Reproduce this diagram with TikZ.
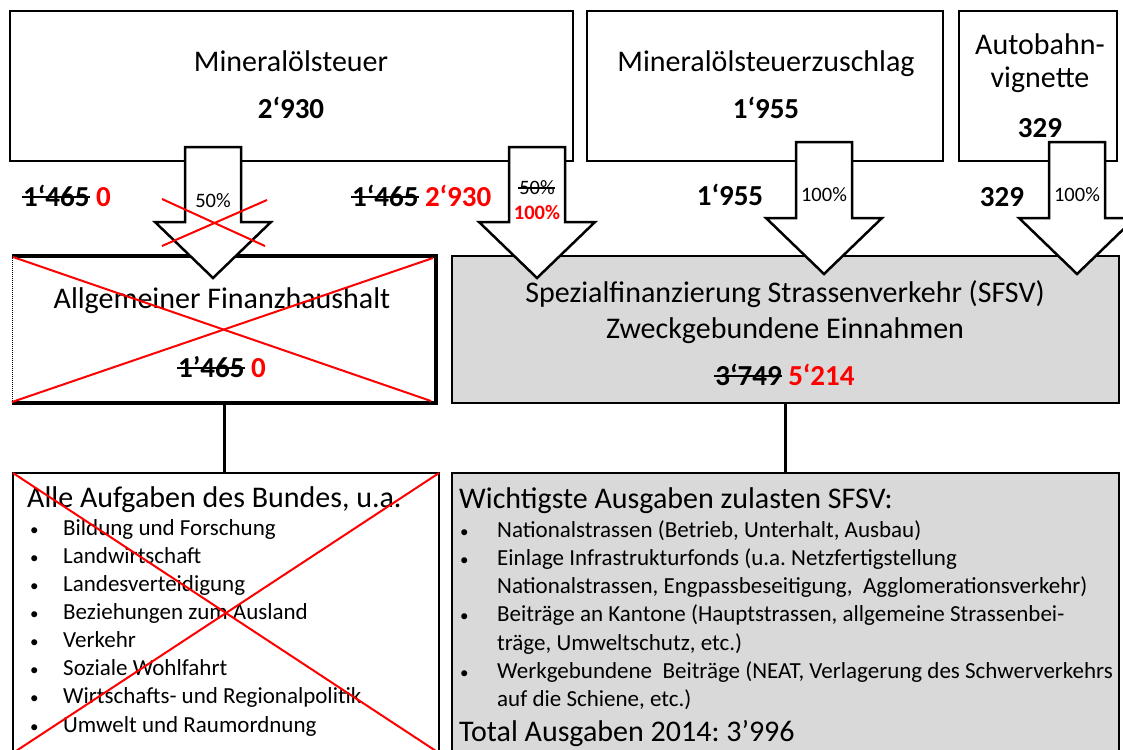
\documentclass[tikz,border=0pt]{standalone}
\usepackage{fontspec}
\setmainfont{Carlito}
\definecolor{boxgray}{HTML}{D9D9D9}
\frenchspacing
\newcommand\strikeout[1]{\setbox0\hbox{#1}\rlap{\kern-0.04em\raisebox{0.26em}{\rule{\dimexpr\wd0+0.06em\relax}{0.07em}}}\box0\relax}
\newcommand\blt{{\fontsize{17}{20}\selectfont •}}
\newcommand\blockarrow[4]{%
  \draw[barrow] ({#1-28},#2) -- ({#1+28},#2) -- ({#1+28},#3) -- ({#1+58},#3) -- (#1,#4) -- ({#1-58},#3) -- ({#1-28},#3) -- cycle;}
\begin{document}
\begin{tikzpicture}[x=1pt,y=-1pt,
  box/.style={draw, line width=2pt, fill=white, inner sep=0pt, outer sep=0pt},
  graybox/.style={box, fill=boxgray},
  plainbox/.style={inner sep=0pt, outer sep=0pt},
  txt/.style={inner sep=0pt, anchor=base, font=\fontsize{30}{34}\selectfont},
  num/.style={inner sep=0pt, anchor=base, font=\fontsize{29}{34}\selectfont\bfseries},
  pct/.style={inner sep=0pt, anchor=base, font=\fontsize{20.5}{24}\selectfont},
  item/.style={inner sep=0pt, anchor=base west, font=\fontsize{23}{26}\selectfont},
  head/.style={inner sep=0pt, anchor=base west, font=\fontsize{30}{34}\selectfont},
  barrow/.style={draw, line width=2.5pt, fill=white, line join=miter},
  conn/.style={line width=3pt},
  cross/.style={draw=red, line width=2pt},
  thickframe/.style={line width=4pt, line join=miter},
  dotframe/.style={line width=1pt, densely dotted}
]
\clip (0,0) rectangle (1123,749);
\fill[white] (0,0) rectangle (1123,749);

% top boxes
\node[box, minimum width=563pt, minimum height=150pt] (mst) at (291.5,86) {};
\node[box, minimum width=356pt, minimum height=150pt] (msz) at (765,86) {};
\node[box, minimum width=158pt, minimum height=150pt] (vig) at (1038,86) {};

% middle boxes
\node[plainbox, minimum width=424pt, minimum height=147pt] (afh) at (224,329.5) {};
\draw[thickframe] (afh.north west) -- (afh.north east) -- (afh.south east) -- (afh.south west);
\draw[dotframe] (afh.north west) -- (afh.south west);
\node[graybox, minimum width=667pt, minimum height=147pt] (sfsv) at (785.5,329.5) {};

% bottom boxes
\node[box, minimum width=426pt, minimum height=280pt] (aufg) at (226,613) {};
\node[graybox, minimum width=667pt, minimum height=280pt] (ausg) at (785.5,613) {};

% connectors
\draw[conn] (afh.south) -- (afh.south |- aufg.north);
\draw[conn] (sfsv.south) -- (sfsv.south |- ausg.north);

% block arrows
\blockarrow{213}{147}{222}{278}
\blockarrow{537}{147}{222}{278}
\blockarrow{824}{142}{218}{274}
\blockarrow{1077}{142}{218}{274}

% top texts
\node[txt] (mst-t) at (291,72) {Mineralölsteuer};
\node[num] (mst-v) at (291,118) {2‘930};
\node[txt] (msz-t) at (766,72) {Mineralölsteuerzuschlag};
\node[num] (msz-v) at (766,118) {1‘955};
\node[txt] (vig-t1) at (1040,55) {Autobahn-};
\node[txt] (vig-t2) at (1040,88) {vignette};
\node[num] (vig-v) at (1040,137) {329};

% arrow labels
\node[pct] (p1) at (213,207) {50\%};
\node[pct] (p2a) at (537,194) {\strikeout{50\%}};
\node[pct, font=\fontsize{20.5}{24}\selectfont\bfseries, text=red] (p2b) at (537,219) {100\%};
\node[pct] (p3) at (824,201) {100\%};
\node[pct] (p4) at (1077,201) {100\%};

% side numbers
\node[num, anchor=base west] (n1) at (23,206) {\strikeout{1‘465} \textcolor{red}{0}};
\node[num, anchor=base west] (n2) at (352,206) {\strikeout{1‘465} \textcolor{red}{2‘930}};
\node[num] (n3) at (730,205) {1‘955};
\node[num] (n4) at (1002,206) {329};

% middle texts
\node[txt] (afh-t) at (222,308) {Allgemeiner Finanzhaushalt};
\node[num] (afh-v) at (222,377) {\strikeout{1’465} \textcolor{red}{0}};
\node[txt] (sfsv-t1) at (785,302) {Spezialfinanzierung Strassenverkehr (SFSV)};
\node[txt] (sfsv-t2) at (785,338) {Zweckgebundene Einnahmen};
\node[num] (sfsv-v) at (785,385) {\strikeout{3‘749} \textcolor{red}{5‘214}};

% bottom left list
\node[head] (aufg-h) at (27,507) {Alle Aufgaben des Bundes, u.a.};
\foreach \t [count=\i] in {Bildung und Forschung, Landwirtschaft, Landesverteidigung, Beziehungen zum Ausland, Verkehr, Soziale Wohlfahrt, Wirtschafts- und Regionalpolitik, Umwelt und Raumordnung} {
  \node[item] (lb\i) at (30,{535+28.15*(\i-1)}) {\blt};
  \node[item] (lt\i) at (63,{535+28.15*(\i-1)}) {\t};
}

% bottom right list
\node[head] (ausg-h) at (459,508) {Wichtigste Ausgaben zulasten SFSV:};
\foreach \b/\t [count=\i] in {\blt/Nationalstrassen (Betrieb{,} Unterhalt{,} Ausbau),
  \blt/Einlage Infrastrukturfonds (u.a. Netzfertigstellung,
  /Nationalstrassen{,} Engpassbeseitigung{,}\ \ Agglomerationsverkehr),
  \blt/Beiträge an Kantone (Hauptstrassen{,} allgemeine Strassenbei-,
  /träge{,} Umweltschutz{,} etc.),
  \blt/Werkgebundene\ \ Beiträge (NEAT{,} Verlagerung des Schwerverkehrs,
  /auf die Schiene{,} etc.)} {
  \node[item] (rb\i) at (460,{537+28.3*(\i-1)}) {\b};
  \node[item] (rt\i) at (497,{537+28.3*(\i-1)}) {\t};
}
\node[head] (ausg-f) at (459,741) {Total Ausgaben 2014: 3’996};

% red crosses
\draw[cross] (162,199) -- (265,246);
\draw[cross] (162,246) -- (267,200);
\draw[cross] (13,257) -- (431,401);
\draw[cross] (12,402) -- (433,258);
\draw[cross] (aufg.north west) -- (aufg.south east);
\draw[cross] (aufg.south west) -- (aufg.north east);
\end{tikzpicture}
\end{document}
